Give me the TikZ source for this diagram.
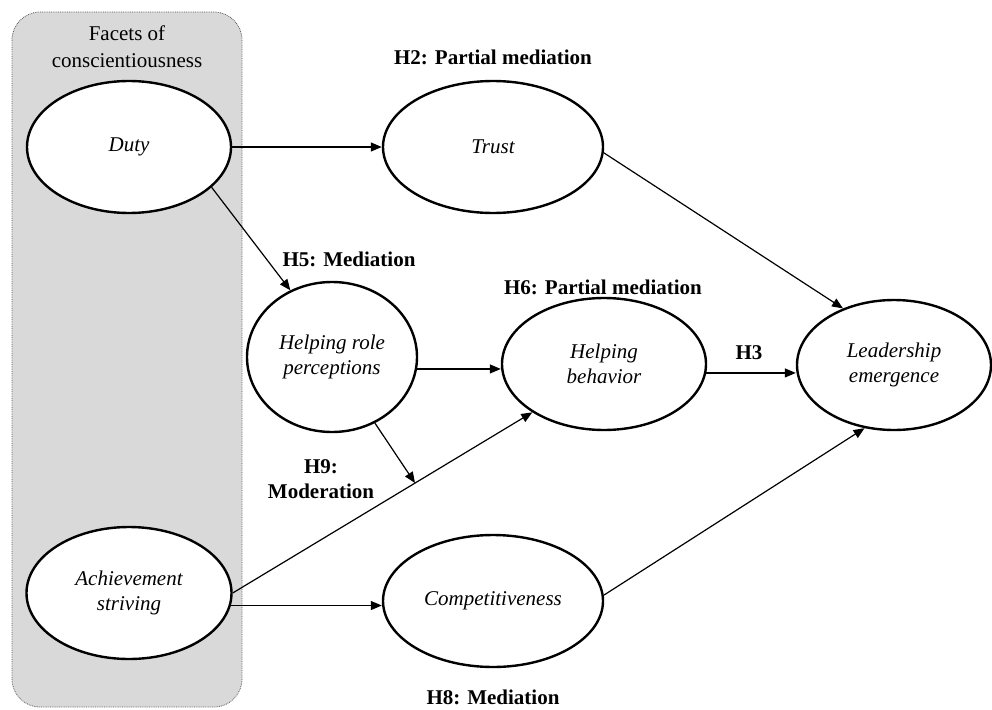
\documentclass[tikz,border=0pt]{standalone}
\usepackage{fontspec}
\setmainfont{Liberation Serif}
\usetikzlibrary{shapes.geometric,arrows.meta,calc}
\begin{document}
\begin{tikzpicture}[x=1pt,y=-1pt,
  latent/.style={ellipse, draw=black, line width=2.4pt, fill=white, inner sep=0pt, align=center, font=\fontsize{21}{25.5}\selectfont\itshape},
  hyp/.style={font=\fontsize{21}{25.5}\selectfont\bfseries, align=center, inner sep=0pt},
  plain/.style={font=\fontsize{21}{27}\selectfont, align=center, inner sep=0pt},
  conn/.style={line width=1.2pt, -{Triangle[length=11pt,width=9pt]}},
  facetbox/.style={draw=gray!70!black, densely dotted, line width=0.8pt, fill=black!15, rounded corners=28pt}]
\useasboundingbox (0,0) rectangle (992,709);
% facet group
\draw[facetbox] (12,12) rectangle (242,707);
\node[plain] (facets) at (127,47) {Facets of\\conscientiousness};
% latent constructs
\node[latent, minimum width=204pt, minimum height=132pt] (duty) at (129,147) {Duty};
\node[latent, minimum width=205pt, minimum height=132pt] (ach) at (129,593) {Achievement\\striving};
\node[latent, minimum width=220pt, minimum height=132pt] (trust) at (493,147) {Trust};
\node[latent, minimum width=170pt, minimum height=150pt] (hrp) at (332,357) {Helping role\\perceptions};
\node[latent, minimum width=204pt, minimum height=132pt] (hb) at (604,364) {Helping\\behavior};
\node[latent, minimum width=194pt, minimum height=130pt] (le) at (894,365) {Leadership\\emergence};
\node[latent, minimum width=220pt, minimum height=132pt] (comp) at (493,601) {Competitiveness};
% hypothesis labels
\node[hyp] (h2) at (493,57) {H2: Partial mediation};
\node[hyp] (h5) at (349,259) {H5: Mediation};
\node[hyp] (h6) at (603,287) {H6: Partial mediation};
\node[hyp] (h3) at (749,353) {H3};
\node[hyp] (h9) at (321,479) {H9:\\Moderation};
\node[hyp] (h8) at (493,697) {H8: Mediation};
% moderation point
\coordinate (mod) at (415,483);
% connectors
\draw[conn] (duty.east) -- (trust.west);
\draw[conn] (duty.-26) -- (hrp.122);
\draw[conn] (trust.-3) -- (le.132);
\draw[conn] (hrp.-8) -- (hrp.-8 -| hb.west);
\draw[conn] (hrp.-57) -- (mod);
\draw[conn] (ach.east) -- (hb.214);
\draw[conn] (ach.-7) -- (ach.-7 -| comp.west);
\draw[conn] (comp.3) -- (le.-115);
\draw[conn] (hb.-5) -- (hb.-5 -| le.west);
\end{tikzpicture}
\end{document}
